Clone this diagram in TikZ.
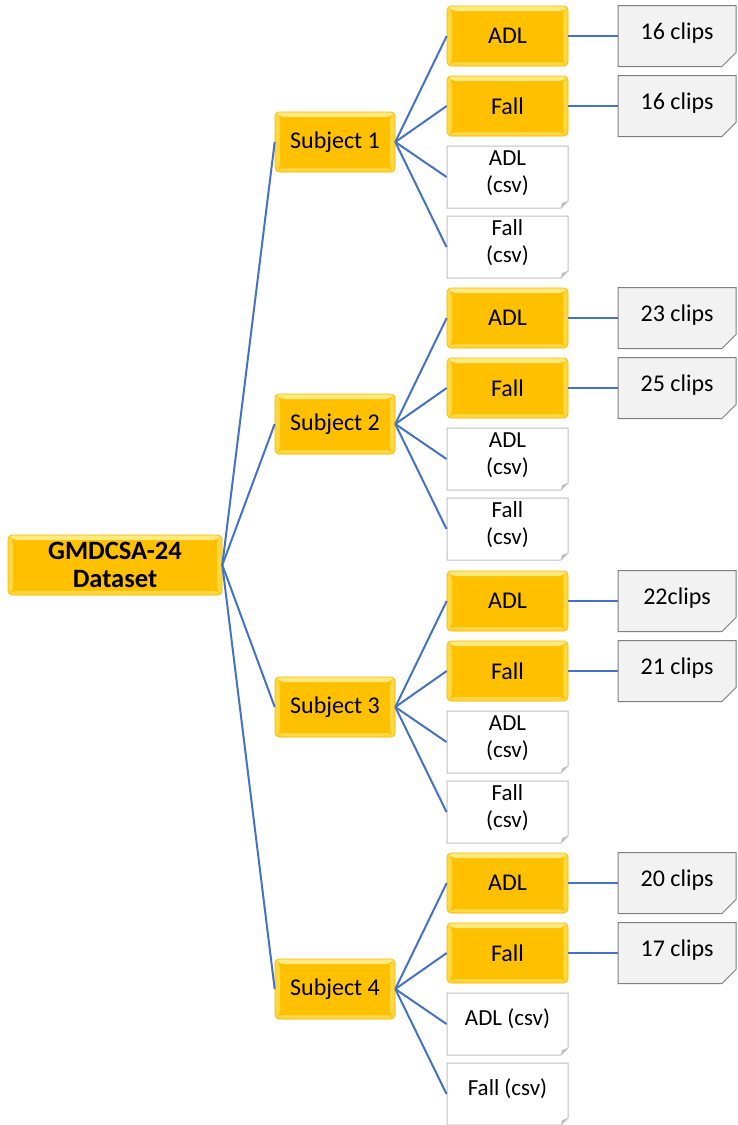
\documentclass[tikz,border=0pt]{standalone}
\usepackage{fontspec}
\setmainfont{Carlito}
\usetikzlibrary{shapes.misc,calc}
\definecolor{gold}{HTML}{FFC000}
\definecolor{goldtop}{HTML}{FFEA80}
\definecolor{goldside}{HTML}{FFD740}
\definecolor{goldedge}{HTML}{F5B800}
\definecolor{linkblue}{HTML}{4472C4}
\definecolor{clipfill}{HTML}{F2F2F2}
\definecolor{clipedge}{HTML}{7F7F7F}
\definecolor{csvedge}{HTML}{BFBFBF}
\definecolor{foldgray}{HTML}{BFBFBF}
\newcommand{\liftbox}[2]{\smash{\raisebox{#1}{\begin{tabular}{@{}c@{}}#2\end{tabular}}}}
\tikzset{
  bev/.style={path picture={
    \fill[goldtop] (path picture bounding box.north west) -- (path picture bounding box.north east)
      -- ++(-5pt,-5pt) -- ($(path picture bounding box.north west)+(5pt,-5pt)$) -- cycle;
    \fill[goldside] (path picture bounding box.north west) -- ($(path picture bounding box.north west)+(5pt,-5pt)$)
      -- ($(path picture bounding box.south west)+(5pt,4pt)$) -- (path picture bounding box.south west) -- cycle;
    \fill[goldside] (path picture bounding box.north east) -- ($(path picture bounding box.north east)+(-5pt,-5pt)$)
      -- ($(path picture bounding box.south east)+(-5pt,4pt)$) -- (path picture bounding box.south east) -- cycle;
    \fill[goldside] (path picture bounding box.south west) -- (path picture bounding box.south east)
      -- ++(-5pt,4pt) -- ($(path picture bounding box.south west)+(5pt,4pt)$) -- cycle;
  }},
  goldbox/.style={rectangle, rounded corners=4pt, fill=gold, draw=goldedge, line width=0.6pt, bev,
    minimum height=60pt, inner sep=0pt, font=\fontsize{24}{27}\selectfont, align=center},
  rootbox/.style={goldbox, minimum width=214pt, font=\fontsize{26.5}{28}\selectfont\bfseries},
  subjbox/.style={goldbox, minimum width=120pt},
  kidbox/.style={goldbox, minimum width=121pt},
  foldc/.style={chamfered rectangle, chamfered rectangle corners=south east,
    chamfered rectangle xsep=7pt, chamfered rectangle ysep=7pt, inner sep=0pt,
    path picture={\fill[foldgray] ($(path picture bounding box.south east)+(-7pt,0)$)
      -- ($(path picture bounding box.south east)+(0,7pt)$)
      -- ($(path picture bounding box.south east)+(-6pt,5pt)$) -- cycle;}},
  csvbox/.style={foldc, draw=csvedge, line width=1pt, fill=white, minimum width=121pt,
    minimum height=62pt, font=\fontsize{23}{27}\selectfont, align=center},
  clipbox/.style={foldc, draw=clipedge, line width=1pt, fill=clipfill, minimum width=118pt,
    minimum height=61pt, font=\fontsize{24}{27}\selectfont, align=center},
  link/.style={draw=linkblue, line width=2pt}
}
\begin{document}
\begin{tikzpicture}[x=1pt,y=-1pt]
\useasboundingbox (0,0) rectangle (737,1125);
\node[rootbox] (root) at (115,565) {GMDCSA-24\\Dataset};
\foreach \i/\y/\ca/\cf/\ta/\tf/\lift in {
  1/142/16 clips/16 clips/{ADL\\(csv)}/{Fall\\(csv)}/-3pt,
  2/424/23 clips/25 clips/{ADL\\(csv)}/{Fall\\(csv)}/-3pt,
  3/707/22clips/21 clips/{ADL\\(csv)}/{Fall\\(csv)}/-3pt,
  4/989/20 clips/17 clips/{ADL (csv)}/{Fall (csv)}/-2pt}{
  \node[subjbox] (s\i) at (335,\y) {Subject \i};
  \node[kidbox] (a\i) at (507.5,\y-106) {ADL};
  \node[kidbox] (f\i) at (507.5,\y-36) {Fall};
  \node[csvbox] (ac\i) at (507.5,\y+35) {\liftbox{\lift}{\ta}};
  \node[csvbox] (fc\i) at (507.5,\y+105) {\liftbox{\lift}{\tf}};
  \node[clipbox] (ca\i) at (677,\y-106) {\raisebox{10pt}{\ca}};
  \node[clipbox] (cf\i) at (677,\y-36) {\raisebox{10pt}{\cf}};
  \draw[link] (root.east) -- (s\i.west);
  \draw[link] (s\i.east) -- (a\i.west);
  \draw[link] (s\i.east) -- (f\i.west);
  \draw[link] (s\i.east) -- (ac\i.west);
  \draw[link] (s\i.east) -- (fc\i.west);
  \draw[link] (a\i.east) -- (ca\i.west);
  \draw[link] (f\i.east) -- (cf\i.west);
}
\end{tikzpicture}
\end{document}
